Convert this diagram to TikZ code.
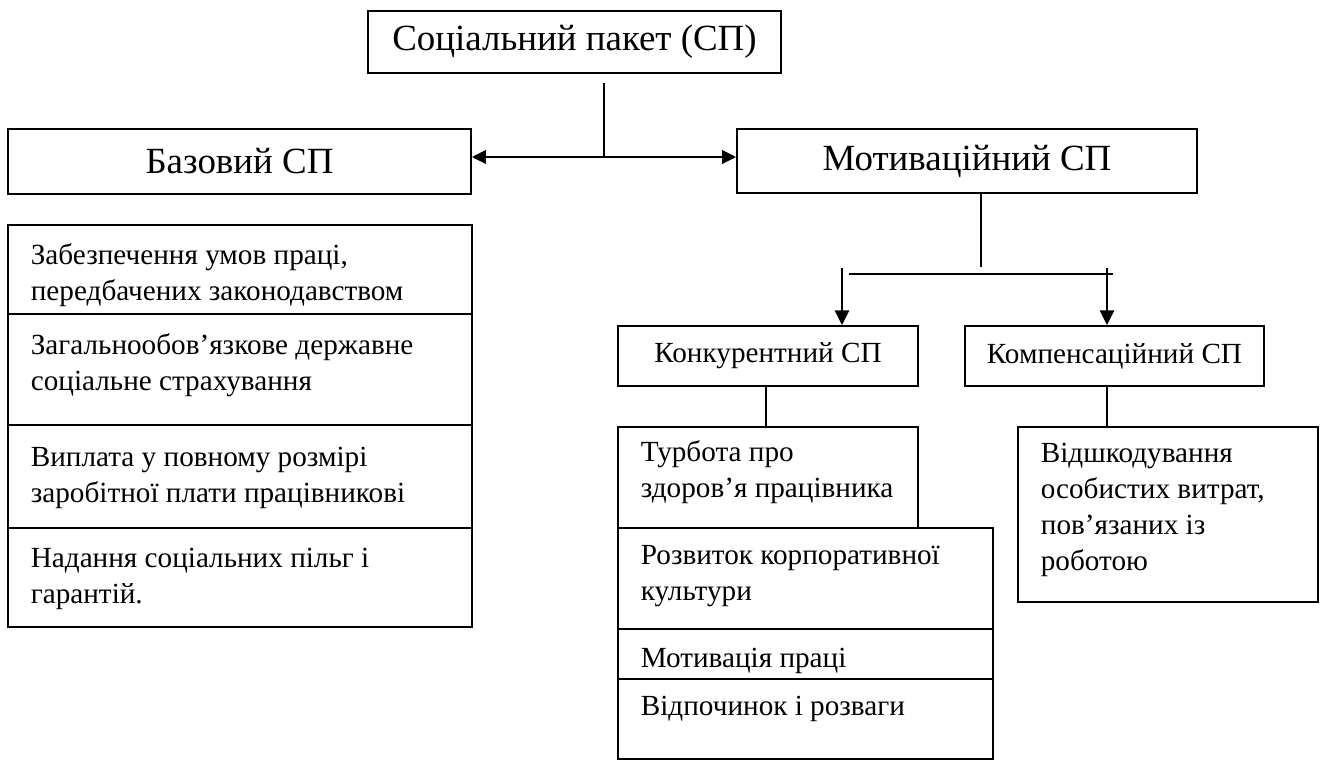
\documentclass[tikz,border=0pt]{standalone}
\usepackage{fontspec}
\setmainfont{Liberation Serif}
\usetikzlibrary{arrows.meta,positioning,calc,fit}
\tikzset{
  every picture/.style={line width=1.3pt, x=0.75pt, y=0.75pt},
  box/.style={draw, inner sep=0pt},
  big/.style={inner sep=0pt, font=\fontsize{27.7}{33}\selectfont},
  mid/.style={inner sep=0pt, font=\fontsize{21.9}{26.8}\selectfont},
  txt/.style={anchor=base west, align=left, inner sep=0pt, font=\fontsize{21.9}{26.8}\selectfont},
  flow/.style={-{Triangle[length=11pt,width=10.5pt]}, line width=2pt},
  both/.style={{Triangle[length=10.5pt,width=10pt]}-{Triangle[length=10.5pt,width=10pt]}, line width=2pt},
}

\begin{document}
\begin{tikzpicture}
  \useasboundingbox (0,0) rectangle (1324,-761);

  % top level
  \node[box, fit={(368,-11) (781,-73)}] (sp) {};
  \node[box, fit={(8,-129) (471,-194)}] (baz) {};
  \node[box, fit={(737,-129) (1197,-193)}] (mot) {};
  \node[big] (spt) at (sp.center) {Соціальний пакет (СП)};
  \node[big] (bazt) at (baz.center) {Базовий СП};
  \node[big] (mott) at (mot.center) {Мотиваційний СП};
  \coordinate (j1) at (604,-83);
  \coordinate (j2) at (604,-157);
  \draw (j1) -- (j2);
  \draw[both] (baz.east |- j2) -- (mot.west |- j2);

  % basic package
  \node[box, fit={(8,-225) (472,-314)}] (zab) {};
  \node[box, fit={(8,-314) (472,-425)}] (zag) {};
  \node[box, fit={(8,-425) (472,-528)}] (vyp) {};
  \node[box, fit={(8,-528) (472,-627)}] (nad) {};
  \node[txt] (zabt) at (30,-300) {Забезпечення умов праці,\\передбачених законодавством};
  \node[txt] (zagt) at (30,-390) {Загальнообов’язкове державне\\соціальне страхування};
  \node[txt] (vypt) at (30,-502) {Виплата у повному розмірі\\заробітної плати працівникові};
  \node[txt] (nadt) at (30,-603) {Надання соціальних пільг і\\гарантій.};

  % motivation package
  \node[box, fit={(618,-326) (918,-386)}] (kon) {};
  \node[box, fit={(965,-326) (1264,-386)}] (kom) {};
  \node[mid] (kont) at (kon.center) {Конкурентний СП};
  \node[mid] (komt) at (kom.center) {Компенсаційний СП};
  \coordinate (j3) at (981,-267);
  \coordinate (h1) at (849,-274);
  \coordinate (h2) at (1113,-274);
  \coordinate (a1) at (842,-268);
  \coordinate (a2) at (1107,-268);
  \draw (j3 |- mot.south) -- (j3);
  \draw (h1) -- (h2);
  \draw[flow] (a1) -- (a1 |- kon.north);
  \draw[flow] (a2) -- (a2 |- kom.north);

  \node[box, fit={(618,-427) (918,-528)}] (tur) {};
  \node[box, fit={(618,-528) (993,-629)}] (roz) {};
  \node[box, fit={(618,-629) (993,-679)}] (mtp) {};
  \node[box, fit={(618,-679) (993,-759)}] (vid) {};
  \node[txt] (turt) at (640,-497) {Турбота про\\здоров’я працівника};
  \node[txt] (rozt) at (640,-600) {Розвиток корпоративної\\культури};
  \node[txt] (mtpt) at (640,-667) {Мотивація праці};
  \node[txt] (vidt) at (640,-715) {Відпочинок і розваги};
  \draw ([xshift=-1.5pt]kon.south) -- ([xshift=-1.5pt]kon.south |- tur.north);

  \node[box, fit={(1018,-427) (1318,-602)}] (vsh) {};
  \node[txt] (vsht) at (1040,-570) {Відшкодування\\особистих витрат,\\пов’язаних із\\роботою};
  \draw (a2 |- kom.south) -- (a2 |- vsh.north);
\end{tikzpicture}
\end{document}
